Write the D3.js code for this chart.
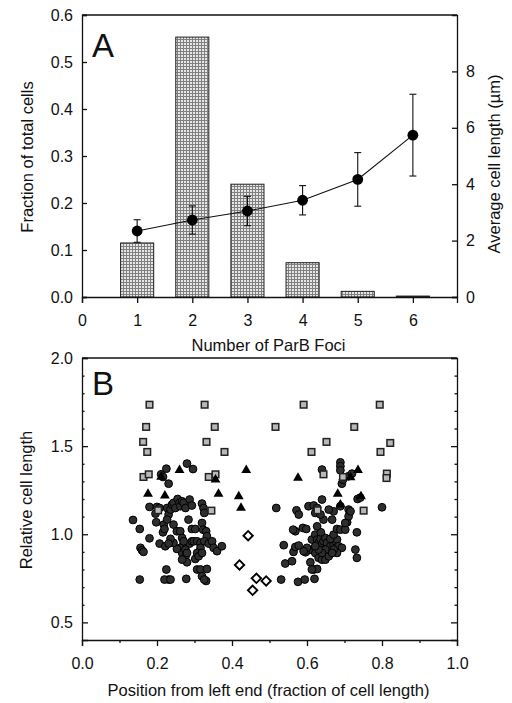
<!DOCTYPE html>
<html>
<head>
<meta charset="utf-8">
<script src="https://cdn.jsdelivr.net/npm/d3@7"></script>
<style>
  body { margin: 0; background: #fff; }
  svg text { font-family: "Liberation Sans", Arial, sans-serif; fill: #111; }
  .axis path, .axis line { stroke: #111; stroke-width: 1.3; }
  .axis text { font-size: 16px; }
  .title { font-size: 16.5px; }
  .panel { font-size: 33px; }
</style>
</head>
<body>
<div id="chart"></div>
<script>
// panel A data
const foci = [1, 2, 3, 4, 5, 6];
const fraction = [0.115, 0.553, 0.240, 0.073, 0.012, 0.002];
const meanLength = [2.34, 2.73, 3.05, 3.43, 4.17, 5.74];
const lengthErr = [0.40, 0.50, 0.52, 0.52, 0.95, 1.45];

// panel B data: [position, relative length]
const circles = [
  [0.136,1.081],[0.154,1.030],[0.156,0.923],[0.160,0.909],[0.164,0.900],[0.154,0.743],[0.180,0.977],
  [0.180,1.155],[0.200,1.155],[0.196,1.117],[0.198,1.068],[0.207,1.149],[0.211,1.340],[0.216,1.325],
  [0.225,1.372],[0.231,1.287],[0.218,1.055],[0.216,1.011],[0.220,1.030],[0.207,0.947],[0.222,0.932],
  [0.227,1.149],[0.231,1.112],[0.227,1.083],[0.236,1.140],[0.240,1.168],[0.244,1.178],[0.249,1.149],
  [0.255,1.200],[0.260,1.178],[0.262,1.159],[0.267,1.187],[0.271,1.178],[0.276,1.149],[0.244,1.055],
  [0.253,1.017],[0.262,1.017],[0.267,0.979],[0.271,0.947],[0.262,0.923],[0.267,0.894],[0.276,0.875],
  [0.280,0.841],[0.267,0.856],[0.253,0.917],[0.244,0.951],[0.236,0.974],[0.231,0.947],[0.225,0.800],
  [0.231,0.743],[0.220,0.743],[0.236,0.743],[0.278,0.747],[0.280,1.401],[0.296,1.370],[0.287,1.197],
  [0.293,1.163],[0.284,1.083],[0.293,1.030],[0.302,1.030],[0.287,0.947],[0.293,0.960],[0.271,0.960],
  [0.276,0.913],[0.280,0.894],[0.298,0.960],[0.307,0.960],[0.316,0.951],[0.320,1.174],[0.324,1.149],
  [0.326,1.121],[0.320,1.064],[0.323,1.026],[0.331,1.017],[0.333,0.989],[0.326,0.960],[0.338,0.947],
  [0.347,0.960],[0.351,0.923],[0.360,0.904],[0.373,0.932],[0.316,0.923],[0.307,0.894],[0.302,0.860],
  [0.311,0.875],[0.320,0.894],[0.307,0.800],[0.316,0.800],[0.333,0.803],[0.331,0.735],[0.320,0.762],
  [0.326,0.743],
  [0.518,1.149],[0.538,0.938],[0.542,0.834],[0.560,0.847],[0.564,0.900],[0.569,0.928],[0.572,1.136],
  [0.578,1.112],[0.569,1.017],[0.563,1.026],[0.531,0.743],[0.576,0.730],[0.594,0.743],[0.620,0.747],
  [0.589,1.036],[0.598,1.030],[0.578,0.936],[0.604,1.159],[0.618,1.163],[0.622,1.121],[0.613,0.970],
  [0.622,0.998],[0.627,0.970],[0.631,0.951],[0.636,0.974],[0.640,0.941],[0.644,0.960],[0.649,0.979],
  [0.653,0.951],[0.662,0.932],[0.671,0.941],[0.676,0.960],[0.680,0.970],[0.684,0.932],[0.693,0.923],
  [0.613,0.913],[0.622,0.894],[0.631,0.866],[0.640,0.856],[0.649,0.856],[0.658,0.875],[0.609,0.841],
  [0.618,0.800],[0.627,0.803],[0.613,0.800],[0.604,0.909],[0.596,0.898],[0.662,0.974],[0.671,0.998],
  [0.680,1.030],[0.689,1.026],[0.702,1.026],[0.707,1.068],[0.711,1.102],[0.711,1.140],[0.716,1.130],
  [0.702,1.064],[0.689,1.159],[0.671,1.130],[0.667,1.083],[0.658,1.140],[0.640,1.197],[0.644,1.083],
  [0.636,1.112],[0.627,1.149],[0.640,1.367],[0.689,1.408],[0.689,1.386],[0.689,1.363],[0.693,1.287],
  [0.696,1.310],[0.711,1.329],[0.720,1.344],[0.735,1.200],[0.742,1.208],[0.733,1.011],[0.729,0.913],
  [0.733,0.866],[0.800,1.153],[0.680,0.894],[0.671,0.913],[0.667,0.894],[0.649,0.913],[0.640,0.894],
  [0.631,0.913],[0.622,0.932],[0.600,0.923],[0.591,0.904],[0.637,1.011],[0.627,1.045]
];
const squares = [
  [0.180,1.735],[0.327,1.735],[0.591,1.735],[0.794,1.735],
  [0.171,1.609],[0.354,1.609],[0.516,1.609],[0.726,1.609],
  [0.163,1.524],[0.332,1.524],[0.652,1.524],[0.822,1.518],
  [0.174,1.467],[0.380,1.467],[0.612,1.467],[0.796,1.467],
  [0.164,1.325],[0.178,1.340],[0.338,1.325],[0.356,1.340],[0.644,1.340],[0.696,1.325],[0.813,1.344],[0.812,1.319],
  [0.203,1.136],[0.345,1.134],[0.628,1.136],[0.751,1.134]
];
const triangles = [
  [0.211,1.325],[0.260,1.363],[0.438,1.363],[0.576,1.319],[0.736,1.363],[0.176,1.229],[0.221,1.219],
  [0.364,1.229],[0.418,1.215],[0.424,1.149],[0.682,1.229],[0.744,1.215],[0.689,1.168],[0.356,1.310],[0.716,1.323]
];
const diamonds = [[0.443,0.992],[0.420,0.826],[0.465,0.750],[0.455,0.682],[0.491,0.735]];

const svg = d3.select("#chart").append("svg")
  .attr("width", 512).attr("height", 703);

// bar fill texture
const pat = svg.append("defs").append("pattern")
  .attr("id", "grid").attr("width", 3).attr("height", 3)
  .attr("patternUnits", "userSpaceOnUse");
pat.append("rect").attr("width", 3).attr("height", 3).attr("fill", "#e6e6e6");
pat.append("rect").attr("width", 3).attr("height", 1).attr("fill", "#808080");
pat.append("rect").attr("width", 1).attr("height", 3).attr("fill", "#808080");

const left = 82, right = 457;

// ---------- panel A ----------
const aTop = 15, aBottom = 297;
const xA = d3.scaleLinear().domain([0, 6.8]).range([left, right]);
const yA = d3.scaleLinear().domain([0, 0.6]).range([aBottom, aTop]);
const yA2 = d3.scaleLinear().domain([0, 10]).range([aBottom, aTop]);

const gA = svg.append("g");

gA.selectAll("rect.bar")
  .data(foci)
  .join("rect")
    .attr("class", "bar")
    .attr("x", d => xA(d - 0.3))
    .attr("width", xA(0.6) - xA(0))
    .attr("y", (d, i) => yA(fraction[i]))
    .attr("height", (d, i) => aBottom - yA(fraction[i]))
    .attr("fill", "url(#grid)")
    .attr("stroke", "#222")
    .attr("stroke-width", 1);

// top line of frame
gA.append("line").attr("x1", left).attr("x2", right).attr("y1", aTop).attr("y2", aTop)
  .attr("stroke", "#111").attr("stroke-width", 1.3);

gA.append("g").attr("class", "axis")
  .attr("transform", `translate(${left},0)`)
  .call(d3.axisLeft(yA).tickValues([0, 0.1, 0.2, 0.3, 0.4, 0.5, 0.6]).tickFormat(d3.format(".1f")).tickSize(-5).tickPadding(9));

gA.append("g").attr("class", "axis")
  .attr("transform", `translate(${right},0)`)
  .call(d3.axisRight(yA2).tickValues([0, 2, 4, 6, 8]).tickFormat(d3.format("d")).tickSize(-5).tickPadding(9));

gA.append("g").attr("class", "axis")
  .attr("transform", `translate(0,${aBottom})`)
  .call(d3.axisBottom(xA).tickValues([0, 1, 2, 3, 4, 5, 6]).tickFormat(d3.format("d")).tickSize(6).tickPadding(12));

// mean length line with error bars
const lineA = d3.line().x(d => xA(d)).y((d, i) => yA2(meanLength[i]));
gA.append("path").datum(foci)
  .attr("d", lineA).attr("fill", "none").attr("stroke", "#111").attr("stroke-width", 1.1);

const err = gA.selectAll("g.err").data(foci).join("g").attr("class", "err");
err.append("line")
  .attr("x1", d => xA(d)).attr("x2", d => xA(d))
  .attr("y1", (d, i) => yA2(meanLength[i] - lengthErr[i]))
  .attr("y2", (d, i) => yA2(meanLength[i] + lengthErr[i]))
  .attr("stroke", "#111").attr("stroke-width", 1.1);
[-1, 1].forEach(s => {
  err.append("line")
    .attr("x1", d => xA(d) - 3.5).attr("x2", d => xA(d) + 3.5)
    .attr("y1", (d, i) => yA2(meanLength[i] + s * lengthErr[i]))
    .attr("y2", (d, i) => yA2(meanLength[i] + s * lengthErr[i]))
    .attr("stroke", "#111").attr("stroke-width", 1.1);
});
err.append("circle")
  .attr("cx", d => xA(d)).attr("cy", (d, i) => yA2(meanLength[i]))
  .attr("r", 5.4).attr("fill", "#000");

gA.append("text").attr("class", "panel").attr("x", 92).attr("y", 57).text("A");
gA.append("text").attr("class", "title")
  .attr("transform", "translate(33,157) rotate(-90)")
  .attr("text-anchor", "middle").text("Fraction of total cells");
gA.append("text").attr("class", "title")
  .attr("transform", "translate(500,164) rotate(-90)")
  .attr("text-anchor", "middle").text("Average cell length (µm)");
gA.append("text").attr("class", "title")
  .attr("x", (left + right) / 2 - 1).attr("y", 351)
  .attr("text-anchor", "middle").text("Number of ParB Foci");

// ---------- panel B ----------
const bTop = 358, bBottom = 640;
const xB = d3.scaleLinear().domain([0, 1]).range([left, right]);
const yB = d3.scaleLinear().domain([0.4, 2.0]).range([bBottom, bTop]);

const gB = svg.append("g");

gB.append("line").attr("x1", left).attr("x2", right).attr("y1", bTop).attr("y2", bTop)
  .attr("stroke", "#111").attr("stroke-width", 1.3);

const minorX = d3.range(1, 10, 2).map(d => d / 10);
const minorY = d3.range(5, 20).map(d => d / 10).filter(d => Math.round(d * 10) % 5 !== 0);

gB.append("g").attr("class", "axis")
  .attr("transform", `translate(0,${bBottom})`)
  .call(d3.axisBottom(xB).tickValues(minorX).tickSize(3).tickFormat(""))
  .call(g => g.select(".domain").remove());
gB.append("g").attr("class", "axis")
  .attr("transform", `translate(0,${bBottom})`)
  .call(d3.axisBottom(xB).tickValues([0, 0.2, 0.4, 0.6, 0.8, 1.0]).tickFormat(d3.format(".1f")).tickSize(6).tickPadding(12));

gB.append("g").attr("class", "axis")
  .attr("transform", `translate(${left},0)`)
  .call(d3.axisLeft(yB).tickValues(minorY).tickSize(-2.5).tickFormat(""))
  .call(g => g.select(".domain").remove());
gB.append("g").attr("class", "axis")
  .attr("transform", `translate(${left},0)`)
  .call(d3.axisLeft(yB).tickValues([0.5, 1.0, 1.5, 2.0]).tickFormat(d3.format(".1f")).tickSize(-6).tickPadding(9));

gB.append("g").attr("class", "axis")
  .attr("transform", `translate(${right},0)`)
  .call(d3.axisRight(yB).tickValues(minorY).tickSize(-2.5).tickFormat(""))
  .call(g => g.select(".domain").remove());
gB.append("g").attr("class", "axis")
  .attr("transform", `translate(${right},0)`)
  .call(d3.axisRight(yB).tickValues([0.5, 1.0, 1.5, 2.0]).tickSize(-6).tickFormat(""));

gB.selectAll("circle.pt").data(circles).join("circle")
  .attr("class", "pt")
  .attr("cx", d => xB(d[0])).attr("cy", d => yB(d[1]))
  .attr("r", 3.9).attr("fill", "#2e2e2e").attr("stroke", "#000").attr("stroke-width", 1);

gB.selectAll("rect.sq").data(squares).join("rect")
  .attr("class", "sq")
  .attr("x", d => xB(d[0]) - 3.3).attr("y", d => yB(d[1]) - 3.3)
  .attr("width", 6.6).attr("height", 6.6)
  .attr("fill", "#b8b8b8").attr("stroke", "#222").attr("stroke-width", 1.5);

const tri = d3.symbol().type(d3.symbolTriangle).size(42);
gB.selectAll("path.tri").data(triangles).join("path")
  .attr("class", "tri")
  .attr("transform", d => `translate(${xB(d[0])},${yB(d[1])})`)
  .attr("d", tri).attr("fill", "#000");

const dia = d3.symbol().type(d3.symbolSquare).size(44);
gB.selectAll("path.dia").data(diamonds).join("path")
  .attr("class", "dia")
  .attr("transform", d => `translate(${xB(d[0])},${yB(d[1])}) rotate(45)`)
  .attr("d", dia).attr("fill", "#fff").attr("stroke", "#000").attr("stroke-width", 1.9);

gB.append("text").attr("class", "panel").attr("x", 92).attr("y", 395).text("B");
gB.append("text").attr("class", "title")
  .attr("transform", "translate(32,500) rotate(-90)")
  .attr("text-anchor", "middle").text("Relative cell length");
gB.append("text").attr("class", "title")
  .attr("x", (left + right) / 2 - 1).attr("y", 696)
  .attr("text-anchor", "middle").text("Position from left end (fraction of cell length)");
</script>
</body>
</html>
